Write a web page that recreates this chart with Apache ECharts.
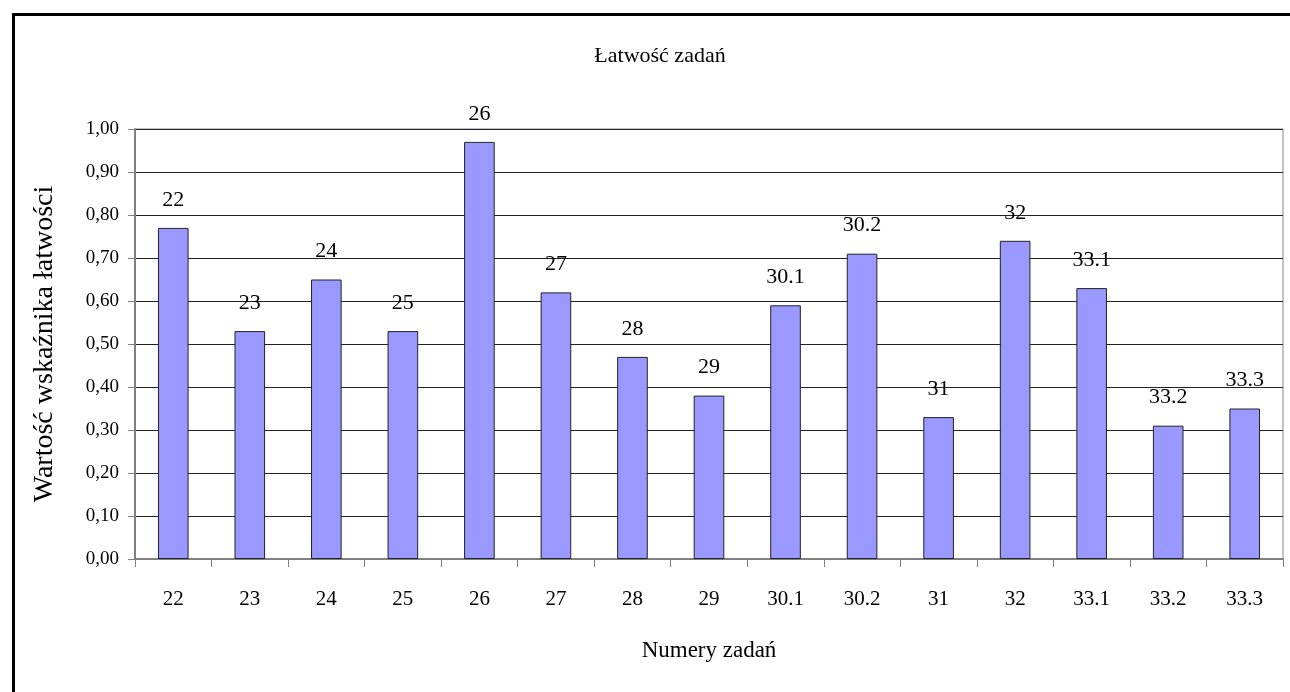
<!DOCTYPE html>
<html>
<head>
<meta charset="utf-8">
<script src="https://cdn.jsdelivr.net/npm/echarts@6/dist/echarts.min.js"></script>
<style>
  html, body { margin: 0; padding: 0; background: #fff; }
  #chart { width: 1290px; height: 692px; }
</style>
</head>
<body>
<div id="chart"></div>
<script>
// Task numbers (categories) and their ease index values
const tasks = ['22', '23', '24', '25', '26', '27', '28', '29', '30.1', '30.2', '31', '32', '33.1', '33.2', '33.3'];
const easeValues = [0.77, 0.53, 0.65, 0.53, 0.97, 0.62, 0.47, 0.38, 0.59, 0.71, 0.33, 0.74, 0.63, 0.31, 0.35];

const FONT = '"Liberation Serif", "Times New Roman", serif';

const chart = echarts.init(document.getElementById('chart'), null, { renderer: 'canvas' });

chart.setOption({
  backgroundColor: '#fff',
  animation: false,
  title: {
    text: 'Łatwość zadań',
    left: 655,
    top: 40,
    textAlign: 'center',
    textStyle: { fontFamily: FONT, fontSize: 22, fontWeight: 'normal', color: '#000' }
  },
  graphic: [{
    type: 'rect',
    left: 11,
    top: 12,
    shape: { width: 1300, height: 700 },
    style: { fill: 'none', stroke: '#000', lineWidth: 3 },
    silent: true,
    z: 100
  }],
  grid: {
    left: 135,
    right: 7,
    top: 129,
    bottom: 133,
    show: true,
    borderColor: '#888',
    borderWidth: 1
  },
  xAxis: {
    type: 'category',
    data: tasks,
    name: 'Numery zadań',
    nameLocation: 'middle',
    nameGap: 80,
    nameTextStyle: { fontFamily: FONT, fontSize: 23, color: '#000' },
    axisLine: { lineStyle: { color: '#808080', width: 2 } },
    axisTick: { show: true, length: 8, lineStyle: { color: '#808080', width: 1 } },
    axisLabel: { fontFamily: FONT, fontSize: 21, color: '#000', margin: 30 }
  },
  yAxis: {
    type: 'value',
    min: 0,
    max: 1,
    interval: 0.1,
    name: 'Wartość wskaźnika łatwości',
    nameLocation: 'middle',
    nameRotate: 90,
    nameGap: 76,
    nameTextStyle: { fontFamily: FONT, fontSize: 28, color: '#000' },
    axisLine: { show: true, lineStyle: { color: '#808080', width: 2 } },
    axisTick: { show: true, length: 7, lineStyle: { color: '#808080' } },
    axisLabel: {
      fontFamily: FONT, fontSize: 19, color: '#000', margin: 16,
      formatter: v => v.toFixed(2).replace('.', ',')
    },
    splitLine: { show: true, lineStyle: { color: '#222', width: 1 } }
  },
  series: [{
    type: 'bar',
    data: easeValues,
    barCategoryGap: '60%',
    itemStyle: { color: '#9999ff', borderColor: '#222', borderWidth: 1 },
    label: {
      show: true,
      position: 'top',
      distance: 17,
      fontFamily: FONT,
      fontSize: 22,
      color: '#000',
      formatter: p => p.name
    }
  }]
});
</script>
</body>
</html>
